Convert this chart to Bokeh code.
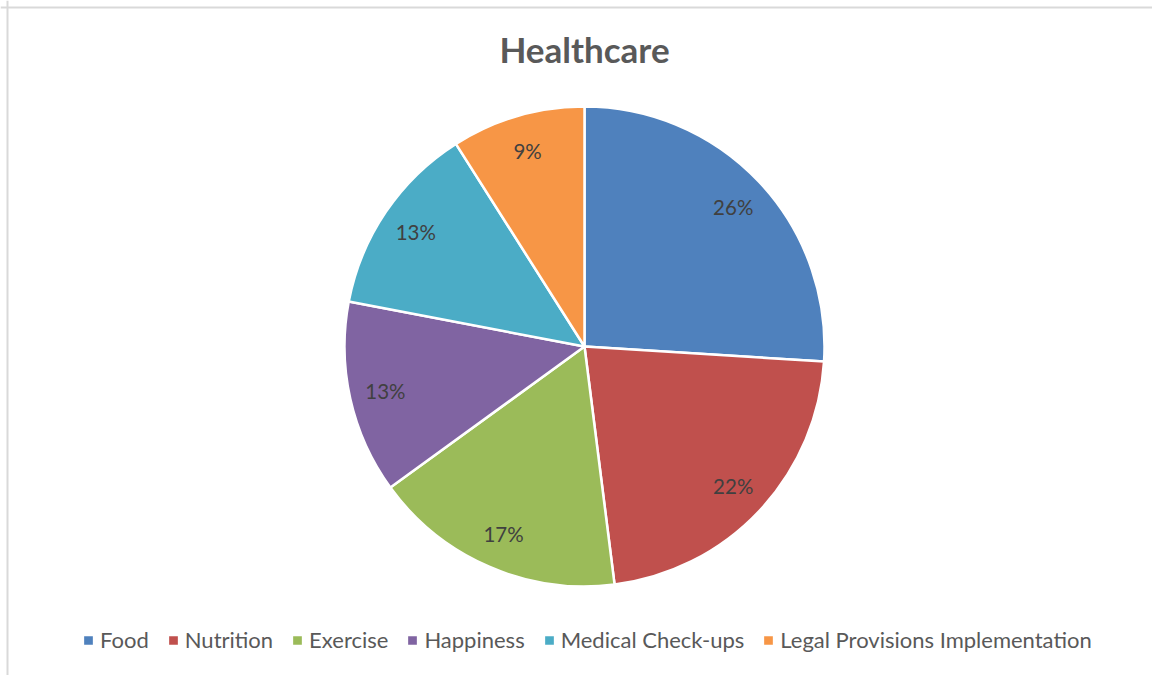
import math
from bokeh.plotting import figure
from bokeh.models import Range1d, Legend, LegendItem, ColumnDataSource, Span
from bokeh.core.properties import value
from bokeh.embed import file_html
from bokeh.resources import INLINE

title_text = "Healthcare"
categories = ["Food", "Nutrition", "Exercise", "Happiness", "Medical Check-ups", "Legal Provisions Implementation"]
shares = [26, 22, 17, 13, 13, 9]
colors = ["#4F81BD", "#C0504D", "#9BBB59", "#8064A2", "#4BACC6", "#F79646"]

W, H = 1152, 675
CX, CY, R = 584, 329, 240
FONT = "Lato"

total = sum(shares)
starts, ends, lx, ly, labels = [], [], [], [], []
a = math.pi / 2
for s in shares:
    sweep = 2 * math.pi * s / total
    starts.append(a)
    ends.append(a - sweep)
    mid = a - sweep / 2
    lx.append(CX + 0.85 * R * math.cos(mid))
    ly.append(CY + 0.85 * R * math.sin(mid))
    labels.append(f"{round(100 * s / total)}%")
    a -= sweep

p = figure(width=W, height=H, output_backend="svg", toolbar_location=None,
           x_range=Range1d(0, W), y_range=Range1d(0, H), min_border=0)
p.axis.visible = False
p.grid.visible = False
p.outline_line_color = None
p.background_fill_color = "white"
p.border_fill_color = "white"

p.add_layout(Span(location=7, dimension="height", line_color="#d9d9d9", line_width=2))
p.add_layout(Span(location=H - 7, dimension="width", line_color="#d9d9d9", line_width=2))

items = []
for i, cat in enumerate(categories):
    r = p.wedge(x=CX, y=CY, radius=R, start_angle=starts[i], end_angle=ends[i],
                direction="clock", fill_color=colors[i], line_color="white", line_width=2.5)
    items.append(LegendItem(label=cat, renderers=[r]))

src = ColumnDataSource(dict(x=lx, y=ly, t=labels))
p.text(x="x", y="y", text="t", source=src, text_align="center", text_baseline="middle",
       text_font=value(FONT), text_font_size="20.5px", text_color="#404040")

p.text(x=[CX], y=[H - 48], text=[title_text], text_align="center", text_baseline="middle",
       text_font=value(FONT), text_font_size="35px", text_font_style="bold", text_color="#595959")

legend = Legend(items=items, orientation="horizontal", location=(81, 22),
                glyph_width=14, glyph_height=14, label_standoff=5, spacing=17,
                padding=0, margin=0, border_line_color=None, background_fill_alpha=0,
                label_text_font=FONT, label_text_font_size="22px", label_text_color="#595959",
                label_height=22)
p.add_layout(legend)

open("out.html", "w").write(file_html(p, INLINE))
